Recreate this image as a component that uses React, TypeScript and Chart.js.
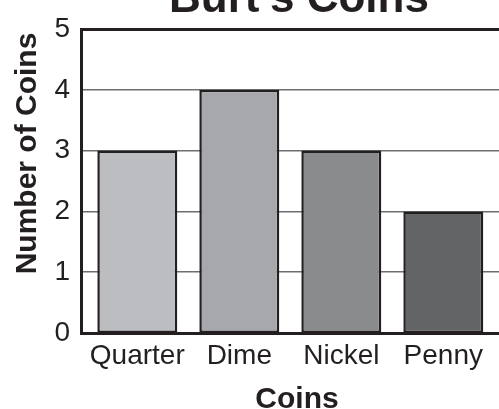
import React, { useEffect, useRef } from "react";
import { Chart, registerables } from "chart.js";

Chart.register(...registerables);

const categories = ["Quarter", "Dime", "Nickel", "Penny"];
const counts = [3, 4, 3, 2];
const barColors = ["#bcbdc0", "#a7a8ab", "#8a8b8d", "#636466"];
const yTicks = [0, 1, 2, 3, 4, 5];
const chartTitle = "Burt's Coins";
const xTitle = "Coins";
const yTitle = "Number of Coins";

const INK = "#231f20";
const FONT = "'Liberation Sans', Arial, sans-serif";

const titlesPlugin = {
  id: "customTitles",
  afterDraw(chart: any) {
    const ctx = chart.ctx;
    const area = chart.chartArea;
    ctx.save();
    ctx.fillStyle = INK;
    ctx.textAlign = "center";
    ctx.textBaseline = "alphabetic";
    // main title (partly clipped at the top like the reference)
    ctx.font = `bold 44px ${FONT}`;
    ctx.fillText(chartTitle, area.left + 218, 12);
    // x axis title
    ctx.font = `bold 30px ${FONT}`;
    ctx.fillText(xTitle, area.left + 216, 408);
    // y axis title
    ctx.translate(36, 153.5);
    ctx.rotate(-Math.PI / 2);
    ctx.fillText(yTitle, 0, 0);
    ctx.restore();
  },
};

export default function App() {
  const ref = useRef<HTMLCanvasElement | null>(null);

  useEffect(() => {
    if (!ref.current) return;
    const chart = new Chart(ref.current, {
      type: "bar",
      data: {
        datasets: [
          {
            data: categories.map((_, i) => ({ x: i, y: counts[i] })),
            backgroundColor: barColors,
            borderColor: INK,
            borderWidth: 2.5,
            borderSkipped: false,
            categoryPercentage: 1,
            barPercentage: 0.784,
          },
        ],
      },
      options: {
        responsive: false,
        animation: false,
        devicePixelRatio: 1,
        events: [],
        layout: { padding: { top: 29, left: 0, right: 0, bottom: 0 }, autoPadding: false },
        plugins: {
          legend: { display: false },
          title: { display: false },
          tooltip: { enabled: false },
        },
        scales: {
          x: {
            type: "linear",
            offset: false,
            min: -0.552,
            max: 3.546,
            afterFit: (scale: any) => {
              scale.height = 76;
            },
            afterBuildTicks: (scale: any) => {
              scale.ticks = categories.map((_, i) => ({ value: i }));
            },
            grid: { display: false, drawTicks: false, offset: false },
            border: { display: true, color: INK, width: 3 },
            ticks: {
              autoSkip: false,
              maxRotation: 0,
              padding: 6,
              color: INK,
              font: { family: FONT, size: 28 },
              callback: (v: any) => categories[Math.round(Number(v))] ?? "",
            },
          },
          y: {
            min: 0,
            max: 5,
            afterFit: (scale: any) => {
              scale.width = 81;
            },
            afterBuildTicks: (scale: any) => {
              scale.ticks = yTicks.map((v) => ({ value: v }));
            },
            grid: {
              drawTicks: false,
              color: (c: any) => (c.tick && c.tick.value === 5 ? INK : "#6d6e70"),
              lineWidth: (c: any) =>
                c.tick && c.tick.value === 5 ? 3 : c.tick && c.tick.value === 0 ? 0 : 1.5,
            },
            border: { display: true, color: INK, width: 3 },
            ticks: {
              padding: 11,
              color: INK,
              font: { family: FONT, size: 28 },
            },
          },
        },
      },
      plugins: [titlesPlugin],
    } as any);
    return () => chart.destroy();
  }, []);

  return (
    <div style={{ position: "fixed", left: 0, top: 0, width: 499, height: 409, background: "#fff" }}>
      <canvas ref={ref} width={499} height={409} style={{ display: "block", width: 499, height: 409 }} />
    </div>
  );
}
